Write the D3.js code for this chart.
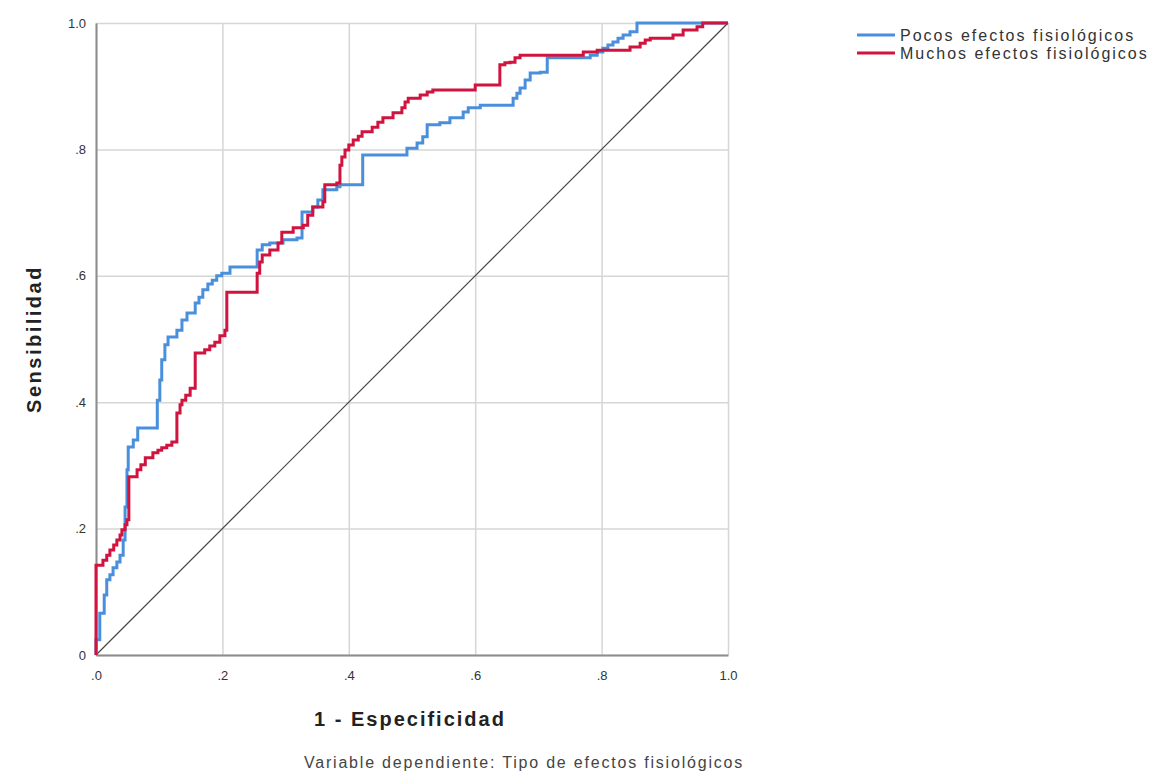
<!DOCTYPE html>
<html>
<head>
<meta charset="utf-8">
<script src="https://cdn.jsdelivr.net/npm/d3@7"></script>
<style>
  body { margin: 0; background: #fff; }
  text { font-family: Arial, "Liberation Sans", sans-serif; }
</style>
</head>
<body>
<div id="chart"></div>
<script>
// ROC curve points [1 - especificidad, sensibilidad]
var pocos = [
  [0, 0], [0, .024], [.006, .066], [.013, .095], [.017, .119], [.022, .127], [.027, .138],
  [.033, .147], [.038, .158], [.043, .182], [.046, .234], [.049, .293], [.051, .329],
  [.059, .340], [.066, .359], [.097, .403], [.101, .435], [.104, .467], [.109, .491],
  [.114, .503], [.128, .514], [.136, .530], [.144, .541], [.157, .557], [.163, .566],
  [.169, .578], [.177, .587], [.184, .593], [.191, .600], [.199, .604], [.212, .614],
  [.255, .641], [.263, .649], [.275, .652], [.296, .657], [.318, .660], [.326, .701],
  [.343, .709], [.351, .720], [.359, .736], [.381, .741], [.386, .744], [.422, .791],
  [.492, .802], [.508, .810], [.517, .820], [.524, .839], [.544, .842], [.560, .850],
  [.581, .859], [.589, .866], [.608, .870], [.660, .881], [.666, .889], [.671, .897],
  [.679, .910], [.687, .921], [.703, .922], [.714, .945], [.782, .949], [.793, .954],
  [.802, .960], [.810, .965], [.818, .970], [.826, .976], [.834, .981], [.845, .986],
  [.856, 1], [1, 1]
];

var muchos = [
  [0, 0], [0, .142], [.011, .150], [.017, .158], [.022, .166], [.028, .174], [.033, .182],
  [.038, .190], [.041, .198], [.046, .206], [.049, .214], [.052, .282], [.065, .293],
  [.071, .301], [.078, .312], [.090, .320], [.098, .324], [.104, .328], [.112, .332],
  [.120, .337], [.128, .383], [.133, .396], [.136, .403], [.142, .411], [.149, .422],
  [.157, .478], [.172, .483], [.180, .489], [.188, .495], [.196, .505], [.204, .514],
  [.207, .574], [.255, .604], [.259, .622], [.263, .633], [.275, .641], [.288, .652],
  [.294, .669], [.312, .676], [.328, .680], [.335, .696], [.343, .709], [.359, .717],
  [.362, .744], [.381, .747], [.386, .775], [.389, .788], [.394, .799], [.400, .807],
  [.407, .815], [.415, .821], [.421, .828], [.437, .835], [.446, .843], [.454, .850],
  [.470, .858], [.484, .866], [.489, .875], [.494, .881], [.513, .886], [.524, .891],
  [.533, .894], [.600, .902], [.639, .934], [.647, .937], [.655, .938], [.663, .945],
  [.671, .949], [.771, .954], [.793, .957], [.845, .962], [.861, .968], [.869, .973],
  [.877, .976], [.913, .981], [.929, .989], [.951, .994], [.960, 1], [1, 1]
];

var diagonal = [[0, 0], [1, 1]];

var ticks = [0, .2, .4, .6, .8, 1];
var xTickLabels = [".0", ".2", ".4", ".6", ".8", "1.0"];
var yTickLabels = ["0", ".2", ".4", ".6", ".8", "1.0"];

var series = [
  {name: "Pocos efectos fisiológicos", values: pocos, color: "#4a8fdc"},
  {name: "Muchos efectos fisiológicos", values: muchos, color: "#d0143f"}
];

var width = 1152,
    height = 779,
    margin = {left: 96, top: 23, right: 424, bottom: 124};

var svg = d3.select("#chart").append("svg")
    .attr("width", width)
    .attr("height", height);

var x = d3.scaleLinear().domain([0, 1]).range([margin.left, width - margin.right]),
    y = d3.scaleLinear().domain([0, 1]).range([height - margin.bottom, margin.top]);

// grid
svg.append("g")
    .attr("transform", "translate(0," + y(0) + ")")
    .call(d3.axisBottom(x).tickValues(ticks).tickSize(-(y(0) - y(1))).tickFormat(""))
    .call(function(g) {
        g.select(".domain").remove();
        g.selectAll("line").attr("stroke", "#d6d6d6").attr("stroke-width", 1.5);
    });

svg.append("g")
    .attr("transform", "translate(" + x(0) + ",0)")
    .call(d3.axisLeft(y).tickValues(ticks).tickSize(-(x(1) - x(0))).tickFormat(""))
    .call(function(g) {
        g.select(".domain").remove();
        g.selectAll("line").attr("stroke", "#d6d6d6").attr("stroke-width", 1.5);
    });

// axes
svg.append("g")
    .attr("transform", "translate(0," + y(0) + ")")
    .call(d3.axisBottom(x).tickValues(ticks).tickSize(0).tickPadding(16)
        .tickFormat(function(d, i) { return xTickLabels[i]; }))
    .call(function(g) {
        g.select(".domain").attr("stroke", "#8c8c8c").attr("stroke-width", 2);
        g.selectAll("text").attr("font-size", 13).attr("fill", "#333");
    });

svg.append("g")
    .attr("transform", "translate(" + x(0) + ",0)")
    .call(d3.axisLeft(y).tickValues(ticks).tickSize(0).tickPadding(10)
        .tickFormat(function(d, i) { return yTickLabels[i]; }))
    .call(function(g) {
        g.select(".domain").attr("stroke", "#8c8c8c").attr("stroke-width", 2);
        g.selectAll("text").attr("font-size", 13).attr("fill", "#333");
    });

// reference line
var line = d3.line()
    .x(function(d) { return x(d[0]); })
    .y(function(d) { return y(d[1]); });

svg.append("path")
    .datum(diagonal)
    .attr("d", line)
    .attr("fill", "none")
    .attr("stroke", "#444")
    .attr("stroke-width", 1.2);

var step = d3.line()
    .x(function(d) { return x(d[0]); })
    .y(function(d) { return y(d[1]); })
    .curve(d3.curveStepAfter);

svg.selectAll(".roc")
    .data(series)
    .enter().append("path")
    .attr("class", "roc")
    .attr("d", function(d) { return step(d.values); })
    .attr("fill", "none")
    .attr("stroke", function(d) { return d.color; })
    .attr("stroke-width", 3)
    .attr("stroke-linejoin", "miter");

// titles
svg.append("text")
    .attr("x", 410)
    .attr("y", 726)
    .attr("text-anchor", "middle")
    .attr("font-size", 20)
    .attr("font-weight", "bold")
    .attr("letter-spacing", 2)
    .attr("fill", "#222")
    .text("1 - Especificidad");

svg.append("text")
    .attr("transform", "translate(41," + (y(0) + y(1)) / 2 + ") rotate(-90)")
    .attr("text-anchor", "middle")
    .attr("font-size", 20)
    .attr("font-weight", "bold")
    .attr("letter-spacing", 2.5)
    .attr("fill", "#222")
    .text("Sensibilidad");

svg.append("text")
    .attr("x", 524)
    .attr("y", 768)
    .attr("text-anchor", "middle")
    .attr("font-size", 16)
    .attr("letter-spacing", 1.8)
    .attr("fill", "#444")
    .text("Variable dependiente: Tipo de efectos fisiológicos");

// legend
var legend = svg.selectAll(".legend")
    .data(series)
    .enter().append("g")
    .attr("class", "legend")
    .attr("transform", function(d, i) { return "translate(857," + (35 + i * 18) + ")"; });

legend.append("line")
    .attr("x1", 0).attr("x2", 38)
    .attr("stroke", function(d) { return d.color; })
    .attr("stroke-width", 3);

legend.append("text")
    .attr("x", 43)
    .attr("dy", "0.35em")
    .attr("font-size", 16)
    .attr("letter-spacing", 2)
    .attr("fill", "#333")
    .text(function(d) { return d.name; });
</script>
</body>
</html>
